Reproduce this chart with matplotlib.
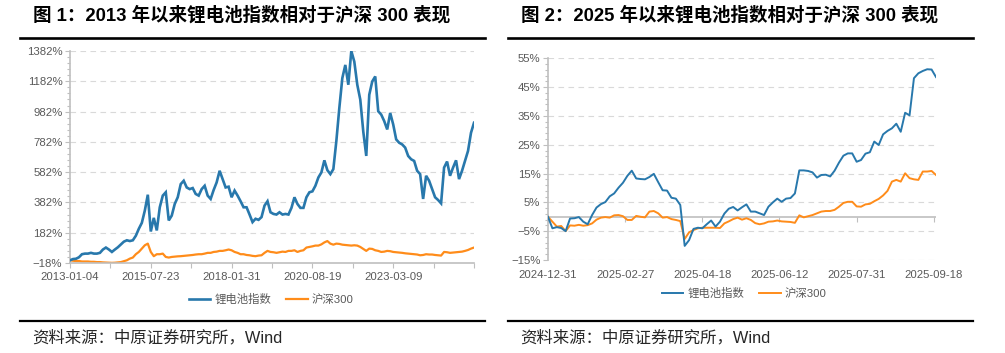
import numpy as np
import matplotlib
matplotlib.use("Agg")
import matplotlib.pyplot as plt
from matplotlib.lines import Line2D
from matplotlib.ticker import FixedLocator, FuncFormatter

plt.rcParams['font.family'] = ['Liberation Sans', 'Noto Sans CJK SC', 'DejaVu Sans']

# ---------------- data ----------------
left_title = "图 1：2013 年以来锂电池指数相对于沪深 300 表现"
right_title = "图 2：2025 年以来锂电池指数相对于沪深 300 表现"
source_text = "资料来源：中原证券研究所，Wind"
series_names = ["锂电池指数", "沪深300"]

left_dates = ["2013-01-04", "2015-07-23", "2018-01-31", "2020-08-19", "2023-03-09"]
left_battery = [0, 8, 10, 20, 40, 44, 44, 49, 44, 44,
                49, 71, 84, 71, 55, 71, 86, 105, 123, 132,
                127, 132, 162, 208, 247, 328, 433, 190, 280, 197,
                350, 427, 449, 263, 295, 372, 416, 503, 525, 481,
                470, 477, 438, 427, 470, 492, 427, 405, 464, 514,
                591, 536, 481, 486, 416, 460, 427, 390, 350, 350,
                302, 252, 274, 267, 285, 361, 390, 317, 306, 302,
                317, 302, 306, 302, 346, 416, 372, 346, 346, 416,
                449, 455, 492, 547, 580, 660, 595, 569, 602, 787,
                1006, 1203, 1290, 1159, 1382, 1312, 1159, 1061, 850, 689,
                1093, 1181, 1214, 984, 962, 919, 864, 973, 897, 798,
                776, 765, 744, 689, 667, 656, 591, 569, 405, 558,
                525, 470, 416, 398, 376, 612, 652, 558, 612, 660,
                536, 591, 656, 722, 842, 908]
left_csi300 = [0, -3, -5, -5, -8, -8, -8, -10, -10, -12,
               -12, -14, -15, -16, -17, -16, -14, -12, -6, 0,
               11, 18, 40, 55, 77, 99, 110, 55, 27, 40,
               40, 44, 22, 18, 22, 24, 26, 27, 29, 31,
               33, 35, 38, 40, 40, 44, 49, 49, 55, 57,
               62, 62, 66, 71, 66, 55, 49, 40, 40, 35,
               33, 29, 27, 31, 33, 49, 62, 55, 53, 49,
               53, 57, 55, 62, 62, 66, 55, 62, 66, 84,
               88, 92, 97, 97, 105, 118, 127, 110, 103, 110,
               108, 103, 101, 99, 97, 99, 97, 88, 75, 62,
               77, 75, 66, 62, 55, 57, 62, 60, 55, 53,
               51, 49, 46, 44, 42, 40, 38, 33, 35, 40,
               38, 38, 35, 33, 31, 55, 53, 49, 51, 53,
               55, 57, 62, 68, 77, 84]

right_dates = ["2024-12-31", "2025-02-27", "2025-04-18", "2025-06-12", "2025-07-31", "2025-09-18"]
right_battery = [0.0, -4.0, -3.6, -3.9, -5.0, -0.6, -0.5, -0.1, -1.7, -2.6,
                 0.6, 3.2, 4.4, 5.1, 7.1, 8.1, 10.1, 11.8, 14.2, 16.0,
                 13.3, 13.1, 13.0, 13.8, 14.9, 12.0, 9.2, 9.1, 6.6, 6.3,
                 4.1, -10.1, -8.1, -4.2, -3.8, -4.0, -2.6, -1.3, -3.4, -1.7,
                 1.1, 2.8, 3.4, 2.2, 3.3, 4.3, 1.8, 1.8, 1.2, 0.6,
                 3.5, 5.0, 6.3, 5.2, 6.3, 6.5, 8.1, 16.1, 16.1, 15.9,
                 15.4, 13.6, 14.5, 14.6, 14.0, 16.0, 18.8, 21.2, 22.0, 22.0,
                 19.1, 19.7, 21.9, 22.4, 26.1, 24.9, 28.6, 29.8, 30.7, 32.3,
                 29.5, 36.1, 35.2, 48.1, 49.8, 50.6, 51.2, 51.1, 48.5]
right_csi300 = [0.0, -1.7, -3.4, -3.2, -5.0, -3.0, -3.1, -2.8, -3.1, -2.9,
                -2.3, -1.0, -0.3, -0.1, -0.3, 0.5, 0.6, 0.2, -1.1, -1.1,
                0.3, 0.0, -0.2, 1.8, 2.0, 1.2, -0.3, -0.1, -0.8, -1.1,
                -1.5, -7.7, -5.4, -4.6, -4.0, -3.8, -3.8, -3.8, -3.8, -3.9,
                -2.3, -1.6, -0.8, -0.3, -1.0, -0.5, -1.1, -2.2, -2.6, -2.3,
                -1.7, -1.6, -1.3, -1.6, -1.7, -1.8, -2.1, 0.5, -0.2, 0.2,
                0.6, 1.2, 1.8, 2.0, 2.0, 2.4, 3.5, 4.8, 5.2, 5.2,
                3.6, 3.5, 4.3, 4.5, 5.4, 6.2, 7.4, 9.0, 12.2, 12.8,
                12.2, 15.1, 13.4, 13.0, 12.8, 15.7, 15.7, 15.9, 14.5]

left_yticks = [-18, 182, 382, 582, 782, 982, 1182, 1382]
right_yticks = [-15, -5, 5, 15, 25, 35, 45, 55]

# ---------------- style ----------------
BLUE = '#2878AC'
ORANGE = '#FF8C1A'
AXIS = '#BFBFBF'
GRID = '#D9D9D9'
TXT = '#595959'

W, H = 1005, 353
fig = plt.figure(figsize=(W / 100, H / 100), dpi=100)


def fx(px):
    return px / W


def fy(py):
    return 1 - py / H


axL = fig.add_axes([fx(70), fy(263), fx(474) - fx(70), fy(51) - fy(263)])
axR = fig.add_axes([fx(548), fy(260), fx(936) - fx(548), fy(58.3) - fy(260)])

pct = FuncFormatter(lambda v, p: f"{v:.0f}%".replace('-', '\u2212'))


def style_y(ax, yticks, minor_step):
    ax.set_ylim(yticks[0], yticks[-1])
    ax.yaxis.set_major_locator(FixedLocator(yticks))
    ax.yaxis.set_minor_locator(FixedLocator(np.arange(yticks[0], yticks[-1] + 1e-6, minor_step)))
    ax.yaxis.set_major_formatter(pct)
    ax.grid(axis='y', which='major', linestyle=(0, (5, 4)), color=GRID, lw=0.8, zorder=0)
    ax.tick_params(axis='y', which='major', length=3.5, width=0.8, color=AXIS,
                   labelsize=8.2, labelcolor=TXT, pad=2)
    ax.tick_params(axis='y', which='minor', length=2.5, width=0.8, color=AXIS)
    for s in ['top', 'right']:
        ax.spines[s].set_visible(False)
    ax.spines['left'].set_color(AXIS)
    ax.spines['left'].set_linewidth(1.2)
    ax.set_axisbelow(True)


# ---- left chart ----
xl = np.arange(len(left_battery))
axL.plot(xl, left_battery, color=BLUE, lw=1.9, solid_joinstyle='miter', zorder=3, label=series_names[0])
axL.plot(xl, left_csi300, color=ORANGE, lw=1.6, solid_joinstyle='round', zorder=2, label=series_names[1])
axL.set_xlim(0, len(left_battery) - 1)
style_y(axL, left_yticks, 40)
lt = np.linspace(0, len(left_battery) - 1, 11)
axL.set_xticks(lt)
axL.set_xticklabels([left_dates[i // 2] if i % 2 == 0 and i // 2 < len(left_dates) else '' for i in range(11)])
axL.tick_params(axis='x', length=3.5, width=0.8, color=AXIS, labelsize=8.2, labelcolor=TXT, pad=3)
axL.spines['bottom'].set_color(AXIS)
axL.spines['bottom'].set_linewidth(1.2)

# ---- right chart ----
xr = np.arange(len(right_battery))
axR.plot(xr, right_battery, color=BLUE, lw=1.4, solid_joinstyle='round', zorder=3, label=series_names[0])
axR.plot(xr, right_csi300, color=ORANGE, lw=1.4, solid_joinstyle='round', zorder=2, label=series_names[1])
axR.set_xlim(0, len(right_battery) - 1)
style_y(axR, right_yticks, 2)
axR.axhline(0, color=AXIS, lw=1.2, zorder=1)
rt = np.linspace(0, 87.5, len(right_dates))
axR.set_xticks(rt)
axR.set_xticklabels(right_dates)
axR.tick_params(axis='x', length=0, labelsize=8.2, labelcolor=TXT, pad=7)
axR.spines['bottom'].set_visible(False)
zero_frac = (0 - right_yticks[0]) / (right_yticks[-1] - right_yticks[0])
sec = axR.secondary_xaxis(zero_frac)
sec.set_xticks(rt)
sec.tick_params(axis='x', length=3.5, width=0.8, color=AXIS, labelbottom=False, labeltop=False)
for s in sec.spines.values():
    s.set_visible(False)

# ---- legends ----
for ax, cx, cy in [(axL, 271, 299.5), (axR, 744, 293)]:
    ax.legend(loc='center', bbox_to_anchor=(fx(cx), fy(cy)), bbox_transform=fig.transFigure,
              ncol=2, frameon=False, fontsize=8.2, handlelength=1.9, handletextpad=0.35,
              columnspacing=1.3, labelcolor=TXT, borderpad=0, borderaxespad=0)

# ---- titles, rules, sources ----
for x0, x1, tx, title in [(20, 485, 33, left_title), (508, 973, 521, right_title)]:
    fig.text(fx(tx), fy(15.5), title, fontsize=13.3, fontweight='bold', color='#000000',
             ha='left', va='center')
    fig.add_artist(Line2D([fx(x0), fx(x1)], [fy(37.7), fy(37.7)], color='#000000', lw=1.9,
                          transform=fig.transFigure))
    fig.add_artist(Line2D([fx(x0), fx(x1)], [fy(320.7), fy(320.7)], color='#000000', lw=1.6,
                          transform=fig.transFigure))
    fig.text(fx(tx - 1), fy(338), source_text, fontsize=11.8, color='#262626', ha='left', va='center')

fig.savefig('out.png', dpi=100)
